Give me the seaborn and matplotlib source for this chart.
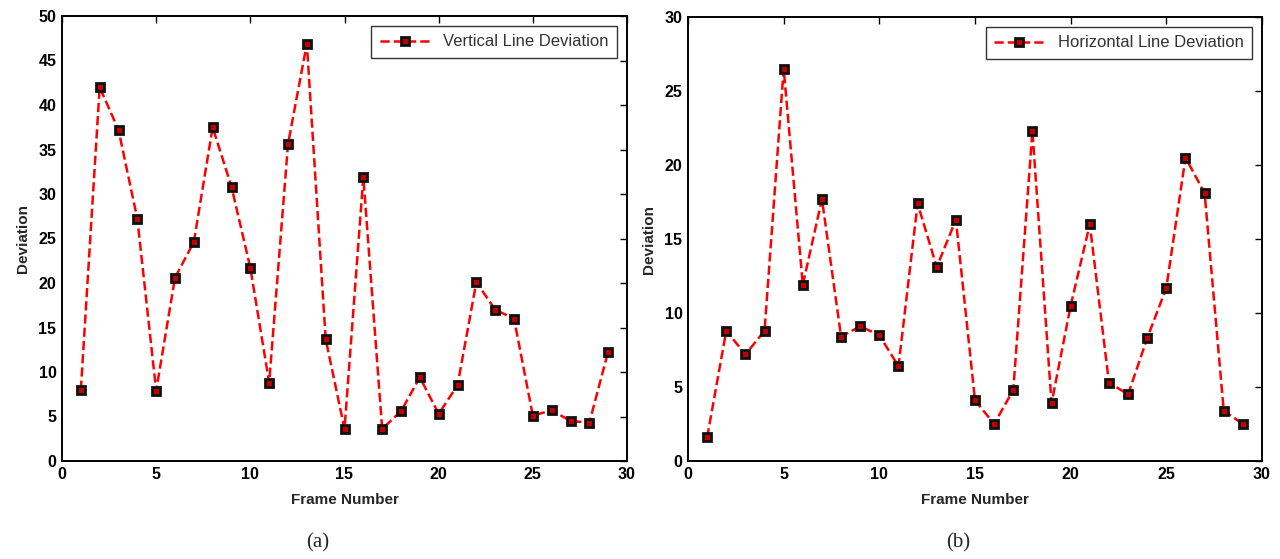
import matplotlib
matplotlib.use("Agg")
import matplotlib.pyplot as plt
import seaborn as sns
import pandas as pd

frames = list(range(1, 30))
vertical_dev = [8.0, 42.0, 37.2, 27.2, 7.9, 20.6, 24.6, 37.5, 30.8, 21.7, 8.8, 35.6, 46.9, 13.7,
                3.6, 31.9, 3.6, 5.6, 9.4, 5.3, 8.5, 20.1, 17.0, 16.0, 5.1, 5.7, 4.5, 4.3, 12.3]
horizontal_dev = [1.6, 8.8, 7.2, 8.8, 26.5, 11.9, 17.7, 8.4, 9.1, 8.5, 6.4, 17.4, 13.1, 16.3,
                  4.1, 2.5, 4.8, 22.3, 3.9, 10.5, 16.0, 5.3, 4.5, 8.3, 11.7, 20.5, 18.1, 3.4, 2.5]

sns.set_style("white")
plt.rcParams['font.family'] = ['Liberation Sans', 'DejaVu Sans']

fig = plt.figure(figsize=(12.8, 5.59), dpi=100)
W, H = 1280, 559
ax1 = fig.add_axes([62 / W, 98 / H, 565 / W, 445 / H])
ax2 = fig.add_axes([688 / W, 98 / H, 574 / W, 444 / H])

panels = [
    (ax1, vertical_dev, "Vertical Line Deviation", (0, 50), range(0, 51, 5), "(a)", 318),
    (ax2, horizontal_dev, "Horizontal Line Deviation", (0, 30), range(0, 31, 5), "(b)", 958),
]

for ax, vals, lab, ylim, yt, cap, cx in panels:
    df = pd.DataFrame({"Frame": frames, "Deviation": vals})
    sns.lineplot(data=df, x="Frame", y="Deviation", ax=ax, color="red", linestyle="--",
                 linewidth=1.8, marker="s", markersize=5.5, markerfacecolor="#c00000",
                 markeredgecolor="#111111", markeredgewidth=2.0, label=lab)
    ax.set_xlim(0, 30)
    ax.set_ylim(*ylim)
    ax.set_xticks(range(0, 31, 5))
    ax.set_yticks(list(yt))
    ax.tick_params(direction="in", top=True, right=True, length=5, width=1,
                   labelsize=11.5, pad=4, colors="black")
    for t in ax.get_xticklabels() + ax.get_yticklabels():
        t.set_fontweight("bold")
    for s in ax.spines.values():
        s.set_color("black")
        s.set_linewidth(1.4)
    ax.set_xlabel("Frame Number", fontsize=11, fontweight="bold", labelpad=8)
    ax.set_ylabel("Deviation", fontsize=11, fontweight="bold", labelpad=6)
    leg = ax.legend(loc="upper right", fontsize=12, frameon=True, fancybox=False,
                    handlelength=3, borderaxespad=0.6, borderpad=0.5)
    leg.get_frame().set_edgecolor("black")
    leg.get_frame().set_linewidth(1.0)
    for t in leg.get_texts():
        t.set_color("#333333")
    fig.text(cx / W, 1 - 543 / H, cap, ha="center", va="center", fontsize=15,
             family=["Liberation Serif", "DejaVu Serif"])

fig.savefig("out.png", dpi=100, facecolor="white")
